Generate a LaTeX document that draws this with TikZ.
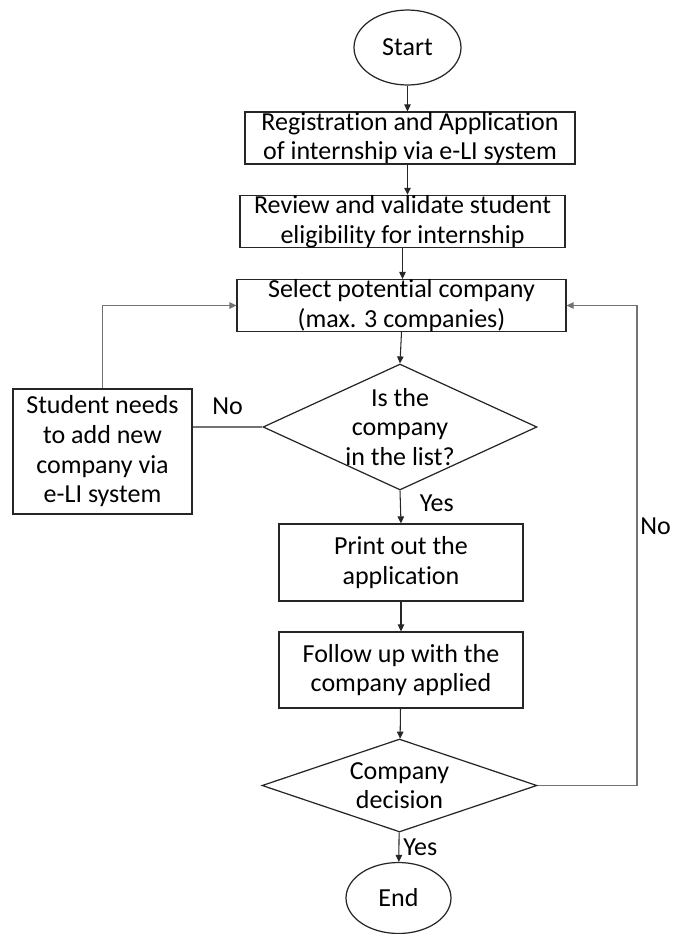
\documentclass[tikz,border=0pt]{standalone}
\usepackage{fontspec}
\setmainfont[Ligatures=NoCommon]{Carlito}
\usetikzlibrary{arrows.meta, positioning, calc, shapes.geometric}
\tikzset{
    proc/.style = {rectangle, draw=black!85, line width=0.7pt, align=center, inner sep=0pt},
    term/.style = {ellipse, draw=black!85, line width=0.7pt, inner sep=0pt},
    decn/.style = {diamond, draw=black!85, line width=0.7pt, inner sep=0pt},
    flow/.style = {-{Triangle[length=1.4mm, width=1.3mm]}, line width=0.6pt, draw=black!85},
    retline/.style = {line width=0.6pt, draw=black!55},
    retflow/.style = {retline, -{Triangle[length=1.4mm, width=1.3mm]}}
}

\begin{document}
\begin{tikzpicture}[x=0.02cm, y=-0.02cm, every node/.style={font=\fontsize{14.8}{16.9}\selectfont}]
\useasboundingbox (0,0) rectangle (675,934);

% Main column
\node[term, minimum width=2.14cm, minimum height=1.5cm] (start) at (407.5,47.5) {Start};
\node[proc, minimum width=6.6cm, minimum height=1.04cm] (reg) at (410,138) {Registration and Application\\of internship via e-LI system};
\node[proc, minimum width=6.5cm, minimum height=1.02cm] (rev) at (402.5,221.5) {Review and validate student\\eligibility for internship};
\node[proc, minimum width=6.58cm, minimum height=1.02cm] (sel) at (401.5,305.5) {Select potential company\\(max. 3 companies)};
\node[decn, minimum width=5.48cm, minimum height=2.52cm,
      label={[align=center]center:Is the\\company\\in the list?}] (inlist) at (400,427) {};
\node[proc, minimum width=4.88cm, minimum height=1.54cm] (print) at (401,562.5) {Print out the\\application};
\node[proc, minimum width=4.88cm, minimum height=1.52cm] (follow) at (401,670) {Follow up with the\\company applied};
\node[decn, minimum width=5.5cm, minimum height=1.86cm,
      label={[align=center]center:Company\\decision}] (decide) at (399.5,785.5) {};
\node[term, minimum width=2.1cm, minimum height=1.42cm] (stop) at (398.5,898) {End};

% Left side
\node[proc, minimum width=3.58cm, minimum height=2.5cm] (addco) at (102.5,451.5) {Student needs\\to add new\\company via\\e-LI system};

% Right side
\coordinate (rside) at (637,785.5);

% Main flow
\draw[flow] (start.south) -- (start.south |- reg.north);
\draw[flow] (reg.south -| start.south) -- (rev.north -| start.south);
\draw[flow] (rev.south) -- (rev.south |- sel.north);
\draw[flow] (sel.south) -- (inlist.north);
\draw[flow] (inlist.south) -- node[midway, right, xshift=0.26cm, yshift=0.08cm] {Yes} (print.north);
\draw[flow] (print) -- (follow);
\draw[flow] (follow) -- (decide);
\draw[flow] (decide) -- node[midway, right, xshift=-0.04cm] {Yes} (stop);

% No -> add new company
\draw[retline] (inlist.west) -- node[midway, above, yshift=0.12cm] {No} (inlist.west -| addco.east);
\draw[retflow] (addco.north) |- (sel.west);

% No -> back to selection
\draw[retflow] (decide.east) -- (rside) |- node[pos=0.27, right, xshift=-0.06cm] {No} (sel.east);
\end{tikzpicture}
\end{document}
